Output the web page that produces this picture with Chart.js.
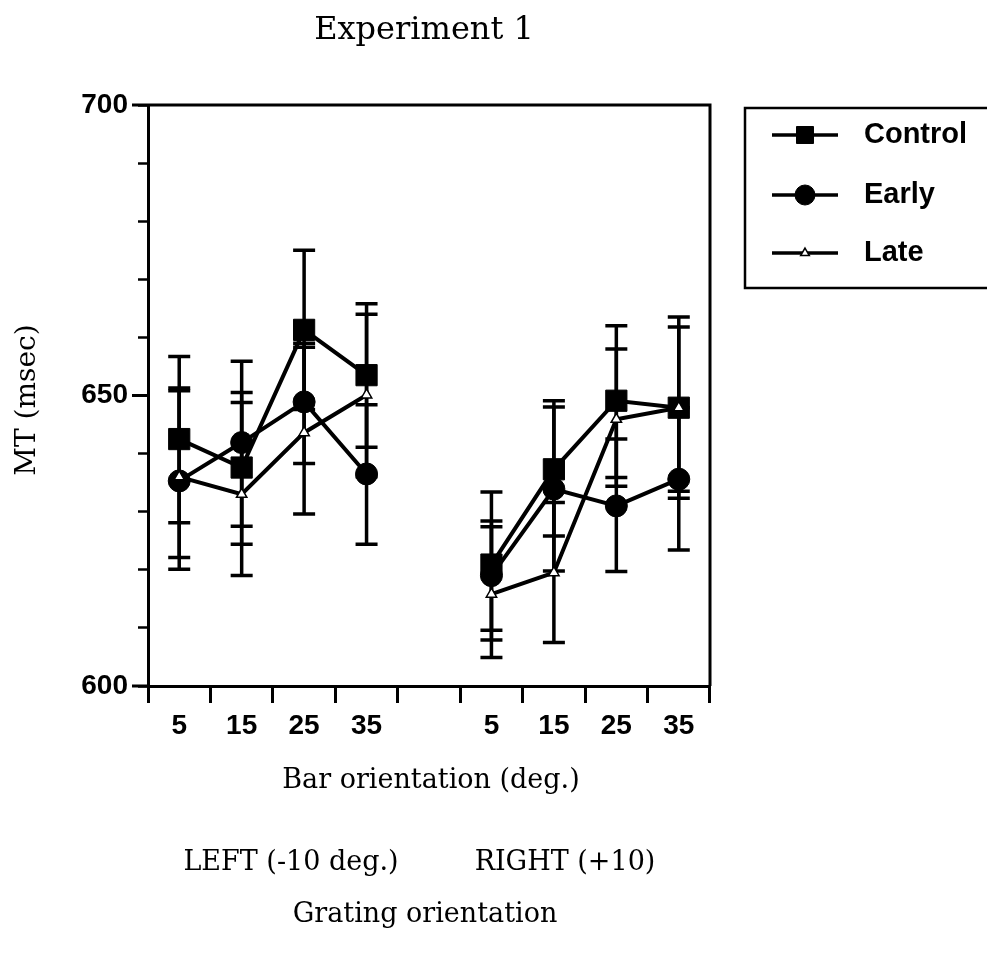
<!DOCTYPE html>
<html lang="en">
<head>
    <meta charset="UTF-8">
    <title>Experiment 1</title>
    <script src="https://cdn.jsdelivr.net/npm/chart.js"></script>
    <style>
        body { margin: 0; background: #fff; }
        canvas { display: block; }
    </style>
</head>
<body>
    <canvas id="mtChart" width="987" height="955"></canvas>

    <script>
        // bar orientation categories, blank slot separates LEFT and RIGHT gratings
        const barLabels = ["5", "15", "25", "35", "", "5", "15", "25", "35"];
        const yTicks = [600, 650, 700];

        // mean MT (msec)
        const controlMT = [642.5, 637.6, 661.3, 653.5, null, 620.9, 637.3, 649.1, 647.9];
        const earlyMT   = [635.3, 641.9, 648.9, 636.5, null, 619.0, 633.9, 631.0, 635.6];
        const lateMT    = [636.0, 633.0, 643.6, 650.1, null, 615.8, 619.5, 645.9, 647.9];

        // error bar ends
        const controlHi = [656.7, 650.5, 675.0, 665.8, null, 633.4, 649.1, 662.0, 661.8];
        const controlLo = [628.1, 624.4, 647.6, 641.1, null, 607.9, 625.8, 635.9, 633.5];
        const earlyHi   = [651.3, 655.9, 659.0, 648.4, null, 628.4, 648.0, 642.5, 647.9];
        const earlyLo   = [620.1, 627.5, 638.3, 624.4, null, 609.6, 619.8, 619.7, 623.4];
        const lateHi    = [650.8, 648.8, 658.3, 664.0, null, 627.4, 631.6, 658.0, 663.5];
        const lateLo    = [622.1, 619.0, 629.6, 636.0, null, 604.9, 607.5, 634.4, 632.3];

        const serif = "'DejaVu Serif', serif";
        const sans = "bold 29px 'Liberation Sans', Arial, sans-serif";

        // error bars under the markers
        const errorBars = {
            id: "errorBars",
            beforeDatasetsDraw(chart) {
                const ctx = chart.ctx, y = chart.scales.y;
                ctx.save();
                ctx.strokeStyle = "#000";
                ctx.lineWidth = 3.5;
                chart.data.datasets.forEach((ds, i) => {
                    const meta = chart.getDatasetMeta(i);
                    ds.hi.forEach((hi, j) => {
                        if (hi == null) return;
                        const x = meta.data[j].x;
                        const yh = y.getPixelForValue(hi), yl = y.getPixelForValue(ds.lo[j]);
                        ctx.beginPath();
                        ctx.moveTo(x, yh); ctx.lineTo(x, yl);
                        ctx.moveTo(x - 11, yh); ctx.lineTo(x + 11, yh);
                        ctx.moveTo(x - 11, yl); ctx.lineTo(x + 11, yl);
                        ctx.stroke();
                    });
                });
                ctx.restore();
            }
        };

        // frame, longer major y ticks, legend box and the text around the plot
        const decorations = {
            id: "decorations",
            afterDraw(chart) {
                const ctx = chart.ctx, a = chart.chartArea, ys = chart.scales.y;
                ctx.save();
                ctx.strokeStyle = "#000";
                ctx.lineWidth = 3;
                ctx.beginPath();
                ctx.moveTo(a.left, a.top); ctx.lineTo(a.right, a.top); ctx.lineTo(a.right, a.bottom);
                yTicks.forEach(v => {
                    const py = ys.getPixelForValue(v);
                    ctx.moveTo(a.left - 16, py); ctx.lineTo(a.left, py);
                });
                ctx.stroke();

                // legend
                ctx.lineWidth = 2.5;
                ctx.strokeRect(745, 108, 260, 180);
                const rows = [135, 195, 253];
                chart.data.datasets.forEach((ds, i) => {
                    const yy = rows[i];
                    ctx.lineWidth = 3.5;
                    ctx.beginPath();
                    ctx.moveTo(772, yy); ctx.lineTo(838, yy);
                    ctx.stroke();
                    ctx.fillStyle = ds.pointBackgroundColor;
                    ctx.strokeStyle = "#000";
                    ctx.lineWidth = ds.pointBorderWidth;
                    Chart.helpers.drawPoint(ctx, {
                        pointStyle: ds.pointStyle,
                        radius: ds.legendRadius,
                        rotation: 0,
                        borderWidth: ds.pointBorderWidth
                    }, 805, yy);
                    ctx.fillStyle = "#000";
                    ctx.font = sans;
                    ctx.textAlign = "left";
                    ctx.textBaseline = "middle";
                    ctx.fillText(ds.label, 864, yy);
                });

                ctx.fillStyle = "#000";
                ctx.textAlign = "center";
                ctx.textBaseline = "alphabetic";
                ctx.font = "32px " + serif;
                ctx.fillText("Experiment 1", 424, 39);
                ctx.font = "27px " + serif;
                ctx.fillText("Bar orientation (deg.)", 431, 788);
                ctx.fillText("LEFT (-10 deg.)", 291, 870);
                ctx.fillText("RIGHT (+10)", 565, 870);
                ctx.fillText("Grating orientation", 425, 922);

                ctx.translate(28, 400);
                ctx.rotate(-Math.PI / 2);
                ctx.font = "28px " + serif;
                ctx.textBaseline = "middle";
                ctx.fillText("MT (msec)", 0, 0);
                ctx.restore();
            }
        };

        function series(label, data, hi, lo, style, radius, legendRadius, fill, order) {
            return {
                label, data, hi, lo, order,
                borderColor: "#000",
                borderWidth: 4,
                pointStyle: style,
                pointRadius: radius,
                legendRadius,
                pointBackgroundColor: fill,
                pointBorderColor: "#000",
                pointBorderWidth: style === "triangle" ? 1.5 : 1,
                spanGaps: false,
                tension: 0
            };
        }

        new Chart(document.getElementById("mtChart").getContext("2d"), {
            type: "line",
            data: {
                labels: barLabels,
                datasets: [
                    series("Control", controlMT, controlHi, controlLo, "rect", 15, 12, "#000", 3),
                    series("Early", earlyMT, earlyHi, earlyLo, "circle", 11, 10, "#000", 2),
                    series("Late", lateMT, lateHi, lateLo, "triangle", 6, 5, "#fff", 1)
                ]
            },
            options: {
                responsive: false,
                animation: false,
                layout: { padding: { left: 0, top: 105, right: 277, bottom: 169 } },
                plugins: { legend: { display: false }, tooltip: { enabled: false } },
                scales: {
                    x: {
                        offset: true,
                        afterFit: s => { s.height = 100; },
                        grid: { offset: true, drawOnChartArea: false, tickLength: 17, tickWidth: 3, tickColor: "#000" },
                        border: { color: "#000", width: 3 },
                        ticks: { color: "#000", font: { family: "'Liberation Sans', Arial", size: 28, weight: "bold" },
                                 padding: 6, maxRotation: 0, autoSkip: false }
                    },
                    y: {
                        min: 600, max: 700,
                        afterFit: s => { s.width = 148; },
                        grid: { drawOnChartArea: false, tickLength: 10, tickWidth: 2.5, tickColor: "#000" },
                        border: { color: "#000", width: 3 },
                        ticks: {
                            stepSize: 10,
                            color: "#000",
                            font: { family: "'Liberation Sans', Arial", size: 28, weight: "bold" },
                            padding: 10,
                            callback: v => yTicks.includes(v) ? v : ""
                        }
                    }
                }
            },
            plugins: [errorBars, decorations]
        });
    </script>
</body>
</html>
